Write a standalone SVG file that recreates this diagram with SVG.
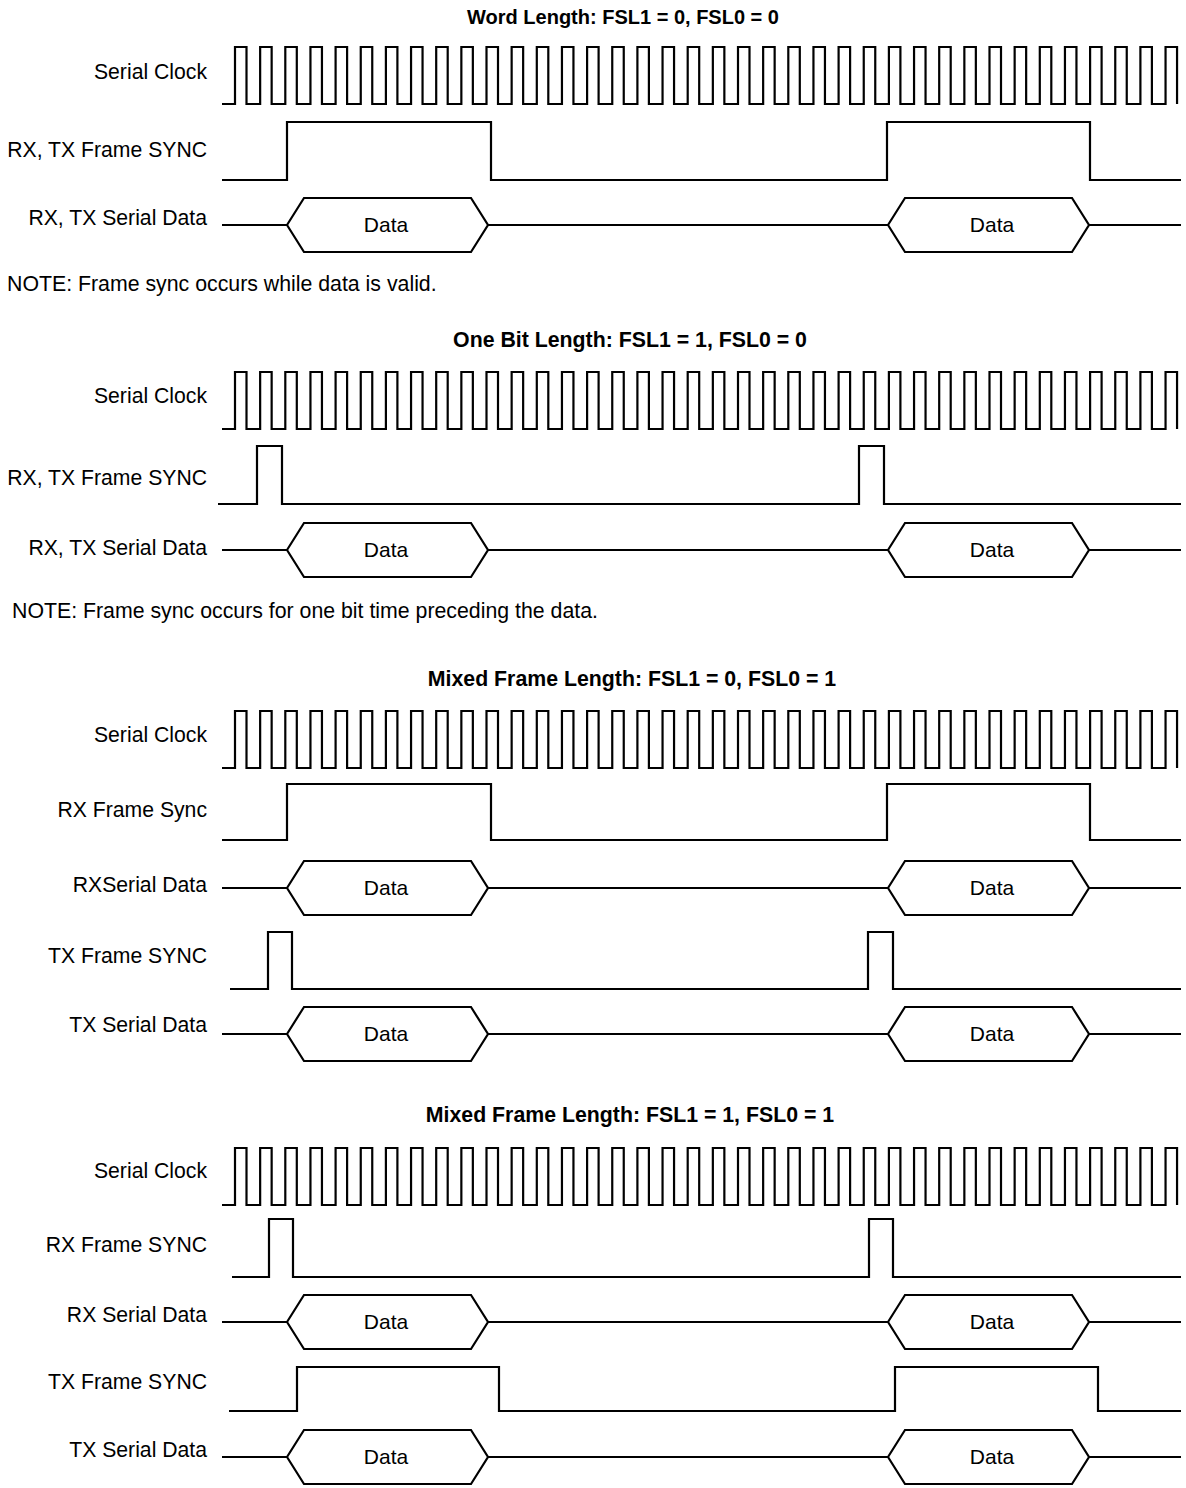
<svg xmlns="http://www.w3.org/2000/svg" xmlns:xlink="http://www.w3.org/1999/xlink" width="1186" height="1488" viewBox="0 0 1186 1488">
<style>
.w{fill:none;stroke:#000;stroke-width:2.2;stroke-linejoin:miter}
.lb{font-family:"Liberation Sans",Arial,sans-serif;font-size:21.2px;fill:#000;text-anchor:end}
.t{font-family:"Liberation Sans",Arial,sans-serif;font-size:20px;font-weight:bold;fill:#000;text-anchor:middle}
.t2{font-size:21.3px}
.d{font-family:"Liberation Sans",Arial,sans-serif;font-size:21px;fill:#000;text-anchor:middle}
.n{font-family:"Liberation Sans",Arial,sans-serif;font-size:21.3px;fill:#000}
</style>
<defs>
<path id="clk" d="M222 57 H235 v-57h11.5v57h13.65 v-57h11.5v57h13.65 v-57h11.5v57h13.65 v-57h11.5v57h13.65 v-57h11.5v57h13.65 v-57h11.5v57h13.65 v-57h11.5v57h13.65 v-57h11.5v57h13.65 v-57h11.5v57h13.65 v-57h11.5v57h13.65 v-57h11.5v57h13.65 v-57h11.5v57h13.65 v-57h11.5v57h13.65 v-57h11.5v57h13.65 v-57h11.5v57h13.65 v-57h11.5v57h13.65 v-57h11.5v57h13.65 v-57h11.5v57h13.65 v-57h11.5v57h13.65 v-57h11.5v57h13.65 v-57h11.5v57h13.65 v-57h11.5v57h13.65 v-57h11.5v57h13.65 v-57h11.5v57h13.65 v-57h11.5v57h13.65 v-57h11.5v57h13.65 v-57h11.5v57h13.65 v-57h11.5v57h13.65 v-57h11.5v57h13.65 v-57h11.5v57h13.65 v-57h11.5v57h13.65 v-57h11.5v57h13.65 v-57h11.5v57h13.65 v-57h11.5v57h13.65 v-57h11.5v57h13.65 v-57h11.5v57h13.65 v-57h11.5v57h13.65 v-57h11.5v57"/>
<path id="dat" d="M222 0 H287 L304 -27 H471 L488 0 L471 27 H304 L287 0 M488 0 H888 L905 -27 H1072 L1089 0 L1072 27 H905 L888 0 M1089 0 H1181"/>
</defs>

<g id="panel1">
<text class="t" x="623" y="24">Word Length: FSL1 = 0, FSL0 = 0</text>
<g id="p1-clock"><text class="lb" x="207" y="79">Serial Clock</text><use href="#clk" class="w" y="47"/></g>
<g id="p1-sync"><text class="lb" x="207" y="157">RX, TX Frame SYNC</text><path class="w" d="M222 180 H287 V122 H491 V180 H887 V122 H1090 V180 H1181"/></g>
<g id="p1-data"><text class="lb" x="207" y="225">RX, TX Serial Data</text><use href="#dat" class="w" y="225"/><text class="d" x="386" y="232">Data</text><text class="d" x="992" y="232">Data</text></g>
<text class="n" x="7" y="291">NOTE: Frame sync occurs while data is valid.</text>
</g>

<g id="panel2">
<text class="t t2" x="630" y="347">One Bit Length: FSL1 = 1, FSL0 = 0</text>
<g id="p2-clock"><text class="lb" x="207" y="403">Serial Clock</text><use href="#clk" class="w" y="372"/></g>
<g id="p2-sync"><text class="lb" x="207" y="485">RX, TX Frame SYNC</text><path class="w" d="M218 504 H257 V446 H282 V504 H859 V446 H884 V504 H1181"/></g>
<g id="p2-data"><text class="lb" x="207" y="555">RX, TX Serial Data</text><use href="#dat" class="w" y="550"/><text class="d" x="386" y="557">Data</text><text class="d" x="992" y="557">Data</text></g>
<text class="n" x="12" y="618">NOTE: Frame sync occurs for one bit time preceding the data.</text>
</g>

<g id="panel3">
<text class="t t2" x="632" y="686">Mixed Frame Length: FSL1 = 0, FSL0 = 1</text>
<g id="p3-clock"><text class="lb" x="207" y="742">Serial Clock</text><use href="#clk" class="w" y="711"/></g>
<g id="p3-rxsync"><text class="lb" x="207" y="817">RX Frame Sync</text><path class="w" d="M222 840 H287 V784 H491 V840 H887 V784 H1090 V840 H1181"/></g>
<g id="p3-rxdata"><text class="lb" x="207" y="892">RXSerial Data</text><use href="#dat" class="w" y="888"/><text class="d" x="386" y="895">Data</text><text class="d" x="992" y="895">Data</text></g>
<g id="p3-txsync"><text class="lb" x="207" y="963">TX Frame SYNC</text><path class="w" d="M230 989 H268 V932 H292 V989 H868 V932 H893 V989 H1181"/></g>
<g id="p3-txdata"><text class="lb" x="207" y="1032">TX Serial Data</text><use href="#dat" class="w" y="1034"/><text class="d" x="386" y="1041">Data</text><text class="d" x="992" y="1041">Data</text></g>
</g>

<g id="panel4">
<text class="t t2" x="630" y="1122">Mixed Frame Length: FSL1 = 1, FSL0 = 1</text>
<g id="p4-clock"><text class="lb" x="207" y="1178">Serial Clock</text><use href="#clk" class="w" y="1148"/></g>
<g id="p4-rxsync"><text class="lb" x="207" y="1252">RX Frame SYNC</text><path class="w" d="M232 1277 H269 V1219 H293 V1277 H869 V1219 H893 V1277 H1181"/></g>
<g id="p4-rxdata"><text class="lb" x="207" y="1322">RX Serial Data</text><use href="#dat" class="w" y="1322"/><text class="d" x="386" y="1329">Data</text><text class="d" x="992" y="1329">Data</text></g>
<g id="p4-txsync"><text class="lb" x="207" y="1389">TX Frame SYNC</text><path class="w" d="M229 1411 H297 V1367 H499 V1411 H895 V1367 H1098 V1411 H1181"/></g>
<g id="p4-txdata"><text class="lb" x="207" y="1457">TX Serial Data</text><use href="#dat" class="w" y="1457"/><text class="d" x="386" y="1464">Data</text><text class="d" x="992" y="1464">Data</text></g>
</g>
</svg>
